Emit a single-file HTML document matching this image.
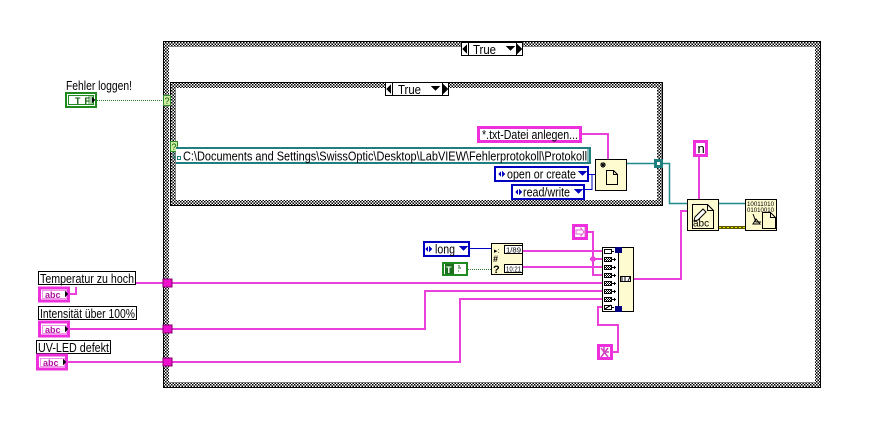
<!DOCTYPE html>
<html><head><meta charset="utf-8"><style>
html,body{margin:0;padding:0;background:#fff;width:873px;height:439px;overflow:hidden}
svg{display:block}
text{font-family:"Liberation Sans",sans-serif;font-size:13px;fill:#000}
.w{fill:none;stroke:#ea40dc;stroke-width:2}
.t{fill:none;stroke:#208a8a;stroke-width:1.500;shape-rendering:auto}
.b{fill:#fff;stroke:#000;stroke-width:1}
.n{fill:#fffbd0;stroke:#000;stroke-width:1}
.ic{fill:none;stroke:#000;stroke-width:1}
.fr{shape-rendering:auto}
</style></head><body>
<svg width="873" height="439" viewBox="0 0 873 439" xmlns="http://www.w3.org/2000/svg" shape-rendering="crispEdges">
<defs>
<pattern id="c" width="3" height="3" patternUnits="userSpaceOnUse">
<rect width="3" height="3" fill="#fff"/><rect width="1.500" height="1.500" fill="#000"/><rect x="1.500" y="1.500" width="1.500" height="1.500" fill="#000"/>
</pattern>
<pattern id="d" width="2" height="2" patternUnits="userSpaceOnUse">
<rect width="2" height="2" fill="#fff"/><rect width="1" height="1" fill="#000"/><rect x="1" y="1" width="1" height="1" fill="#000"/>
</pattern>
</defs>

<!-- outer frame -->
<path class="fr" fill="url(#c)" fill-rule="evenodd" d="M163 41H821V388H163ZM169 47V382H815V47Z"/>
<rect x="163.500" y="41.500" width="657" height="346" fill="none" stroke="#000"/>
<!-- inner frame -->
<path class="fr" fill="url(#c)" fill-rule="evenodd" d="M170 82H663V206H170ZM176 88V200H657V88Z"/>
<rect x="170.500" y="82.500" width="492" height="123" fill="none" stroke="#000"/>

<!-- selectors -->
<g>
<rect class="b" x="461.500" y="42.500" width="61" height="13"/>
<path d="M467 44v10l-5-5z" fill="#000"/>
<path d="M468.500 43v12M516.500 43v12" stroke="#000"/>
<path d="M517 44v10l5-5z" fill="#000"/>
<path d="M506 46h9l-4.500 5z" fill="#000"/>
<text x="473" y="54" textLength="23" lengthAdjust="spacingAndGlyphs">True</text>
</g>
<g>
<rect class="b" x="385.500" y="82.500" width="63" height="13"/>
<path d="M391 84v10l-5-5z" fill="#000"/>
<path d="M392.500 83v12M442.500 83v12" stroke="#000"/>
<path d="M443 84v10l5-5z" fill="#000"/>
<path d="M431 86h9l-4.500 5z" fill="#000"/>
<text x="398" y="94" textLength="23" lengthAdjust="spacingAndGlyphs">True</text>
</g>

<!-- Fehler loggen -->
<text x="66" y="90" textLength="66" lengthAdjust="spacingAndGlyphs">Fehler loggen!</text>
<rect x="66" y="93" width="30" height="14" fill="#fff" stroke="#1f8a1f" stroke-width="2"/>
<rect x="68.500" y="95.500" width="25" height="9" fill="#fff" stroke="#1f8a1f"/>
<rect x="88" y="96" width="5" height="8" fill="#a8cca8"/>
<text x="75" y="104" style="font-size:9px;font-weight:bold;fill:#0d5a0d" textLength="15" lengthAdjust="spacing">TF</text>
<path d="M92 97v6l3-3z" fill="#000"/>
<path d="M97 100.500H164" stroke="#2a7f2a" stroke-dasharray="1 1" fill="none"/>
<rect x="163.500" y="95.500" width="7" height="10" fill="#cfeea0" stroke="#2a8a2a"/>
<text x="164.500" y="104" style="font-size:9px;fill:#0a5a0a">?</text>
<rect x="170.500" y="141.500" width="7" height="10" fill="#cfeea0" stroke="#2a8a2a"/>
<text x="171.500" y="150" style="font-size:9px;fill:#0a5a0a">?</text>
<path d="M174 152V158H178" stroke="#1f7f7f" fill="none"/>

<!-- path constant -->
<rect x="176" y="147" width="415" height="17" fill="#fff"/>
<path d="M176 148H590V163H176" fill="none" stroke="#1f7f7f" stroke-width="2"/>
<path d="M588 149V162" stroke="#1f7f7f"/>
<rect x="177.500" y="156.500" width="3" height="3" fill="#fff" stroke="#1f7f7f"/>
<text x="183" y="160.500" textLength="404" lengthAdjust="spacingAndGlyphs">C:\Documents and Settings\SwissOptic\Desktop\LabVIEW\Fehlerprotokoll\Protokoll</text>

<!-- txt const -->
<rect x="478.500" y="127.500" width="102" height="14" fill="#fff" stroke="#ee30dc" stroke-width="3"/>
<text x="482" y="139" textLength="96" lengthAdjust="spacingAndGlyphs">*.txt-Datei anlegen...</text>
<path class="w" d="M582 134H608V159"/>

<!-- enums -->
<rect x="495" y="167" width="93" height="14" fill="#fff" stroke="#0000c0" stroke-width="2"/>
<path d="M501 171v6l-3-3zM502 171v6l3-3z" fill="#0000c0"/>
<text x="507" y="178.500" textLength="69" lengthAdjust="spacingAndGlyphs">open or create</text>
<path d="M578 171h9l-4.500 5z" fill="#0000c0"/>
<rect x="512" y="185" width="72" height="14" fill="#fff" stroke="#0000c0" stroke-width="2"/>
<path d="M518 189v6l-3-3zM519 189v6l3-3z" fill="#0000c0"/>
<text x="523" y="196.500" textLength="47" lengthAdjust="spacingAndGlyphs">read/write</text>
<path d="M574 189h9l-4.500 5z" fill="#0000c0"/>
<path d="M589 174.500H595M585 189.500H592V175" stroke="#0000c0" fill="none"/>

<!-- open file vi -->
<rect class="n" x="595.500" y="159.500" width="31" height="31"/>
<path class="ic" d="M606.500 170.500H613.500L617.500 174.500V184.500H606.500Z"/>
<path class="ic" d="M613.500 170.500V174.500H617.500"/>
<path d="M600 165h6M603 162v6M601 163l4 4M605 163l-4 4" stroke="#000"/>

<!-- tunnel & teal wires -->
<path class="t" d="M627 163.500H654M663 163.500H669.500V203.500H687M719 203.500H745"/>
<rect x="654" y="159" width="9" height="9" fill="#1f7f7f"/>
<rect x="657" y="162" width="3" height="3" fill="#fff"/>

<!-- n const -->
<rect x="694.500" y="141.500" width="12" height="14" fill="#fff" stroke="#ee30dc" stroke-width="3"/>
<text x="697.500" y="153">n</text>
<path class="w" d="M699 157V199"/>

<!-- write vi -->
<rect class="n" x="687.500" y="199.500" width="31" height="31"/>
<path class="ic" d="M692.500 204.500H707.500L713.500 210.500V228.500H692.500Z" />
<path class="ic" d="M707.500 204.500V210.500H713.500"/>
<path d="M695 217L703 209L706 212L698 220L694 221Z" fill="#fff" stroke="#000" shape-rendering="auto"/>
<text x="693" y="226.500" style="font-size:10px">abc</text>
<!-- close vi -->
<rect class="n" x="745.500" y="199.500" width="31" height="31"/>
<text x="747" y="206" style="font-size:6px" textLength="27" lengthAdjust="spacingAndGlyphs">10011010</text>
<text x="747" y="212" style="font-size:6px" textLength="27" lengthAdjust="spacingAndGlyphs">01010010</text>
<path class="ic" d="M762.500 212.500H770.500L775.500 217.500V228.500H762.500Z"/>
<path class="ic" d="M770.500 212.500V217.500H775.500"/>
<path class="ic" d="M753 214L756 222H761M753 224H760L756 219Z" shape-rendering="auto"/>
<!-- error wire -->
<path d="M719 227.500H745" stroke="#5a5a00" stroke-width="3"/>
<path d="M719 227.500H745" stroke="#e8e000" stroke-width="1" stroke-dasharray="2 2"/>

<!-- left labels -->
<rect class="b" x="38.500" y="271.500" width="97" height="13"/>
<text x="40" y="283" textLength="94" lengthAdjust="spacingAndGlyphs">Temperatur zu hoch</text>
<rect class="b" x="38.500" y="306.500" width="98" height="13"/>
<text x="40" y="318" textLength="95" lengthAdjust="spacingAndGlyphs">Intensität über 100%</text>
<rect class="b" x="36.500" y="340.500" width="74" height="13"/>
<text x="38" y="352" textLength="71" lengthAdjust="spacingAndGlyphs">UV-LED defekt</text>

<!-- abc terminals -->
<g fill="#fff" stroke="#ee30dc">
<rect x="39.500" y="288" width="29" height="13" stroke-width="3"/>
<rect x="39.500" y="322" width="29" height="14" stroke-width="3"/>
<rect x="37.500" y="355" width="29" height="14" stroke-width="3"/>
</g>
<rect x="42.500" y="290.500" width="24" height="8" fill="#fff" stroke="#f090e8"/>
<rect x="42.500" y="325.500" width="24" height="8" fill="#fff" stroke="#f090e8"/>
<rect x="40.500" y="358.500" width="24" height="8" fill="#fff" stroke="#f090e8"/>
<text x="45" y="298" style="font-size:9px;font-weight:bold;fill:#b010a0">abc</text>
<text x="45" y="333" style="font-size:9px;font-weight:bold;fill:#b010a0">abc</text>
<text x="43" y="366" style="font-size:9px;font-weight:bold;fill:#b010a0">abc</text>
<path d="M65 291v6l3-3zM65 326v6l3-3zM63 359v6l3-3z" fill="#000"/>

<!-- string wires -->
<path class="w" d="M69 294H76V287M136 283H602"/>
<path class="w" d="M69 329H425V291H602"/>
<path class="w" d="M67 362H460V299H602"/>
<rect x="163" y="279" width="9" height="8" fill="#ee10cc" stroke="#80006a"/>
<rect x="163" y="325" width="9" height="8" fill="#ee10cc" stroke="#80006a"/>
<rect x="163" y="358" width="9" height="8" fill="#ee10cc" stroke="#80006a"/>

<!-- enum long + T -->
<path d="M470 248.500H491" stroke="#0000c0"/>
<rect x="424" y="242" width="45" height="14" fill="#fff" stroke="#0000c0" stroke-width="2"/>
<path d="M428 246v6l-3-3zM429 246v6l3-3z" fill="#0000c0"/>
<text x="435" y="253.500" textLength="20" lengthAdjust="spacingAndGlyphs">long</text>
<path d="M459 246h9l-4.500 5z" fill="#0000c0"/>
<rect x="443" y="263" width="24" height="12" fill="#fff" stroke="#1f8a1f" stroke-width="2"/>
<rect x="445" y="264" width="9" height="10" fill="#1f6f1f"/>
<text x="446" y="273" style="font-size:9px;font-weight:bold;fill:#fff">T</text>
<path d="M458 266h2M458 268h3M458 271h1" stroke="#1f6f1f"/>
<path d="M468 269.500H491" stroke="#2a7f2a" stroke-dasharray="1 1"/>

<!-- date time vi -->
<rect class="n" x="491.500" y="243.500" width="31" height="31"/>
<rect x="504.500" y="245.500" width="18" height="8" fill="#fff" stroke="#000"/>
<text x="506" y="252.500" style="font-size:7px" textLength="15" lengthAdjust="spacingAndGlyphs">1/89</text>
<rect x="504.500" y="264.500" width="18" height="8" fill="#fff" stroke="#000"/>
<text x="506" y="271.500" style="font-size:7px" textLength="15" lengthAdjust="spacingAndGlyphs">10:21</text>
<text x="494" y="253" style="font-size:7px">▸:</text>
<text x="493" y="262" style="font-size:9px;font-weight:bold">#</text>
<text x="493" y="273" style="font-size:11px;font-weight:bold">?</text>

<!-- string wires to format -->
<path class="w" d="M523 251H602M523 267H602"/>
<path class="w" d="M588 232H593V275H602M590 259H602"/>
<circle cx="593" cy="259" r="2" fill="none" stroke="#ea40dc" stroke-width="1.500" shape-rendering="auto"/>
<rect x="573.500" y="225.500" width="13" height="13" fill="#fff" stroke="#ee30dc" stroke-width="3"/>
<path d="M576 230h5v-2l3 4-3 4v-2h-5zM585 227v10" fill="none" stroke="#e060d0" shape-rendering="auto"/>

<rect x="598.500" y="345.500" width="13" height="13" fill="#fff" stroke="#ee30dc" stroke-width="3"/>
<path d="M601 348l7 9M608 348l-7 9M604 347v5h5" stroke="#d040c0" fill="none" stroke-width="1.500" shape-rendering="auto"/>
<path class="w" d="M612 352H618V325H598V307H602"/>

<!-- format node -->
<rect class="n" x="602.500" y="247.500" width="31" height="64"/>
<rect x="603" y="248" width="16" height="63" fill="#fff"/>
<path d="M618.500 248V311" stroke="#000"/>
<rect x="615" y="247" width="7" height="6" fill="#000080"/>
<rect x="615" y="306" width="7" height="6" fill="#000080"/>
<rect x="604.500" y="249.500" width="7" height="4" fill="#fff" stroke="#000"/>
<path d="M612 251.500h2" stroke="#000"/>
<g fill="url(#d)" stroke="#000">
<rect x="604.500" y="257.500" width="7" height="4"/>
<rect x="604.500" y="265.500" width="7" height="4"/>
<rect x="604.500" y="273.500" width="7" height="4"/>
<rect x="604.500" y="281.500" width="7" height="4"/>
<rect x="604.500" y="289.500" width="7" height="4"/>
<rect x="604.500" y="297.500" width="7" height="4"/>
</g>
<path d="M612 259.500h4M612 267.500h4M612 275.500h4M612 283.500h4M612 291.500h4M612 299.500h4" stroke="#000"/>
<path d="M614.500 258v3M614.500 266v3M614.500 274v3M614.500 282v3M614.500 290v3M614.500 298v3" stroke="#000"/>
<rect x="604.500" y="305.500" width="7" height="4" fill="#fff" stroke="#000"/>
<path d="M605 309l6-4M612 307.500h2" stroke="#000"/>
<rect x="620.500" y="276.500" width="10" height="5" fill="#fff" stroke="#000"/>
<path d="M622 277v4M625 277v4M628 281l2-4" stroke="#000"/>
<path class="w" d="M634 279H681V211H687"/>
</svg>
</body></html>
